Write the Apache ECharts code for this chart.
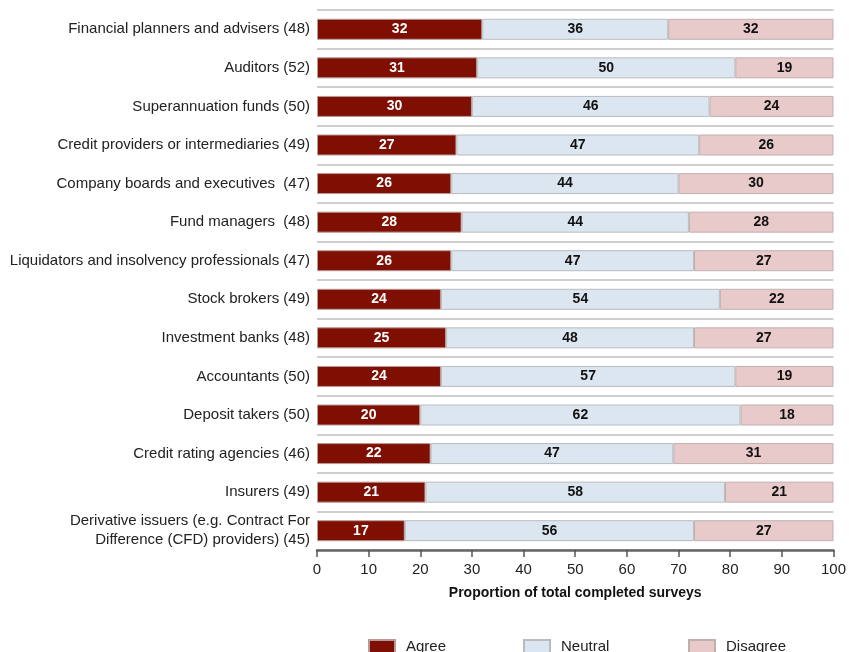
<!DOCTYPE html>
<html>
<head>
<meta charset="utf-8">
<script src="https://cdn.jsdelivr.net/npm/echarts@6/dist/echarts.min.js"></script>
<style>html,body{margin:0;padding:0;background:#fff}#c{width:849px;height:652px}</style>
</head>
<body>
<div id="c"></div>
<script>
const categories = [
  "Financial planners and advisers (48)",
  "Auditors (52)",
  "Superannuation funds (50)",
  "Credit providers or intermediaries (49)",
  "Company boards and executives  (47)",
  "Fund managers  (48)",
  "Liquidators and insolvency professionals (47)",
  "Stock brokers (49)",
  "Investment banks (48)",
  "Accountants (50)",
  "Deposit takers (50)",
  "Credit rating agencies (46)",
  "Insurers (49)",
  "Derivative issuers (e.g. Contract For\nDifference (CFD) providers) (45)"
];
const agree    = [32, 31, 30, 27, 26, 28, 26, 24, 25, 24, 20, 22, 21, 17];
const neutral  = [36, 50, 46, 47, 44, 44, 47, 54, 48, 57, 62, 47, 58, 56];
const disagree = [32, 19, 24, 26, 30, 28, 27, 22, 27, 19, 18, 31, 21, 27];
const xTicks = [0, 10, 20, 30, 40, 50, 60, 70, 80, 90, 100];

const FONT = "Liberation Sans";
const chart = echarts.init(document.getElementById('c'), null, {renderer: 'canvas'});
function ser(name, data, color, labelColor, border) {
  return {
    name: name, type: 'bar', stack: 'total', data: data, barWidth: 21,
    itemStyle: {color: color, borderColor: border, borderWidth: 1},
    label: {show: true, position: 'inside', color: labelColor, fontFamily: FONT, fontWeight: 'bold', fontSize: 14},
    emphasis: {disabled: true}
  };
}
const legendBase = {
  top: 634, itemWidth: 26, itemHeight: 14,
  textStyle: {fontFamily: FONT, fontSize: 15, color: '#222', padding: [3, 0, 0, 6]},
  icon: 'rect'
};
chart.setOption({
  animation: false,
  backgroundColor: '#fff',
  grid: {left: 317, right: 12, top: 10, bottom: 102, containLabel: false},
  xAxis: {
    type: 'value', min: xTicks[0], max: xTicks[xTicks.length - 1], interval: 10,
    name: 'Proportion of total completed surveys', nameLocation: 'middle', nameGap: 36,
    nameTextStyle: {fontFamily: FONT, fontWeight: 'bold', fontSize: 14, color: '#111'},
    axisLine: {show: true, lineStyle: {color: '#666', width: 2.5}},
    axisTick: {show: true, length: 7, lineStyle: {color: '#555', width: 1.5}},
    axisLabel: {fontFamily: FONT, fontSize: 15, color: '#222', margin: 12},
    splitLine: {show: false}
  },
  yAxis: {
    type: 'category', data: categories, inverse: true,
    axisLine: {show: false}, axisTick: {show: false},
    axisLabel: {fontFamily: FONT, fontSize: 15, color: '#222', margin: 7, lineHeight: 19, align: 'right'},
    splitLine: {show: true, lineStyle: {color: '#cfcfcf', width: 2}}
  },
  legend: [
    Object.assign({}, legendBase, {left: 363, data: ['Agree']}),
    Object.assign({}, legendBase, {left: 518, data: ['Neutral']}),
    Object.assign({}, legendBase, {left: 683, data: ['Disagree']})
  ],
  series: [
    ser('Agree', agree, '#7f0f02', '#fff', '#b89a98'),
    ser('Neutral', neutral, '#dce6f0', '#111', '#b8bcc0'),
    ser('Disagree', disagree, '#e9cacb', '#111', '#bfb0b0')
  ]
});
</script>
</body>
</html>
